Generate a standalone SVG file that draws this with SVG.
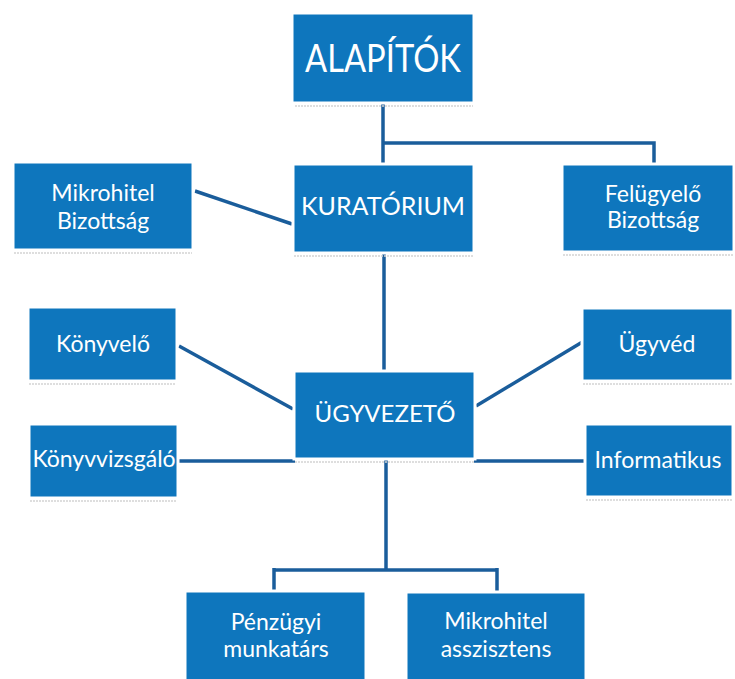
<svg xmlns="http://www.w3.org/2000/svg" width="735" height="679" viewBox="0 0 735 679">
<style>
.box{fill:#0e76bd;stroke:#ffffff;stroke-width:3}
.sh{fill:none;stroke:#d4d4d4;stroke-width:1.5;stroke-dasharray:2 1}
.t{font-family:Lato,"Open Sans",sans-serif;fill:#ffffff;text-anchor:middle}
.c{fill:none;stroke:#1a5d9b;stroke-width:3.5}
</style>
<rect width="735" height="679" fill="#ffffff"/>
<g id="connectors">
<path class="c" d="M383,102 V165"/>
<path class="c" d="M383,143 H654 V165"/>
<path class="c" d="M195,191 L292,224"/>
<path class="c" d="M384,252 V372"/>
<path class="c" d="M179,346 L293,409"/>
<path class="c" d="M179,461 H295"/>
<path class="c" d="M476,406 L584,341"/>
<path class="c" d="M474,461 H586"/>
<path class="c" d="M386,458 V570"/>
<path class="c" d="M274,570 H497"/>
<path class="c" d="M274,568 V592"/>
<path class="c" d="M497,568 V593"/>
</g>
<g id="alapitok">
<line class="sh" x1="295" y1="106" x2="473" y2="106"/>
<rect class="box" x="292" y="13" width="182" height="90"/>
<text class="t" x="383" y="72" font-size="38" textLength="156" lengthAdjust="spacingAndGlyphs">ALAPÍTÓK</text>
</g>
<g id="mikrohitel-bizottsag">
<line class="sh" x1="14" y1="253" x2="192" y2="253"/>
<rect class="box" x="13" y="162" width="180" height="88"/>
<text class="t" x="103" y="201" font-size="23">Mikrohitel</text>
<text class="t" x="103" y="229" font-size="23">Bizottság</text>
</g>
<g id="kuratorium">
<line class="sh" x1="294" y1="256" x2="473" y2="256"/>
<rect class="box" x="293" y="164" width="181" height="89"/>
<text class="t" x="383" y="215" font-size="25">KURATÓRIUM</text>
</g>
<g id="felugyelo-bizottsag">
<line class="sh" x1="563" y1="255" x2="733" y2="255"/>
<rect class="box" x="562" y="164" width="172" height="88"/>
<text class="t" x="653" y="202" font-size="23">Felügyelő</text>
<text class="t" x="653" y="228" font-size="23">Bizottság</text>
</g>
<g id="konyvelo">
<line class="sh" x1="29" y1="384" x2="176" y2="384"/>
<rect class="box" x="28" y="307" width="149" height="74"/>
<text class="t" x="103" y="352" font-size="23">Könyvelő</text>
</g>
<g id="ugyved">
<line class="sh" x1="583" y1="384" x2="732" y2="384"/>
<rect class="box" x="582" y="308" width="151" height="73"/>
<text class="t" x="657" y="352" font-size="23">Ügyvéd</text>
</g>
<g id="ugyvezeto">
<line class="sh" x1="295" y1="462" x2="474" y2="462"/>
<rect class="box" x="294" y="371" width="181" height="88"/>
<text class="t" x="385" y="422" font-size="24">ÜGYVEZETŐ</text>
</g>
<g id="konyvvizsgalo">
<line class="sh" x1="30" y1="501" x2="177" y2="501"/>
<rect class="box" x="29" y="424" width="149" height="74"/>
<text class="t" x="104" y="467" font-size="23">Könyvvizsgáló</text>
</g>
<g id="informatikus">
<line class="sh" x1="586" y1="500" x2="732" y2="500"/>
<rect class="box" x="585" y="424" width="148" height="73"/>
<text class="t" x="658" y="468" font-size="23">Informatikus</text>
</g>
<g id="penzugyi-munkatars">
<rect class="box" x="185" y="591" width="181" height="92"/>
<text class="t" x="276" y="630" font-size="23">Pénzügyi</text>
<text class="t" x="276" y="657" font-size="23">munkatárs</text>
</g>
<g id="mikrohitel-asszisztens">
<rect class="box" x="406" y="592" width="180" height="91"/>
<text class="t" x="496" y="629" font-size="23">Mikrohitel</text>
<text class="t" x="496" y="657" font-size="23">asszisztens</text>
</g>
</svg>
